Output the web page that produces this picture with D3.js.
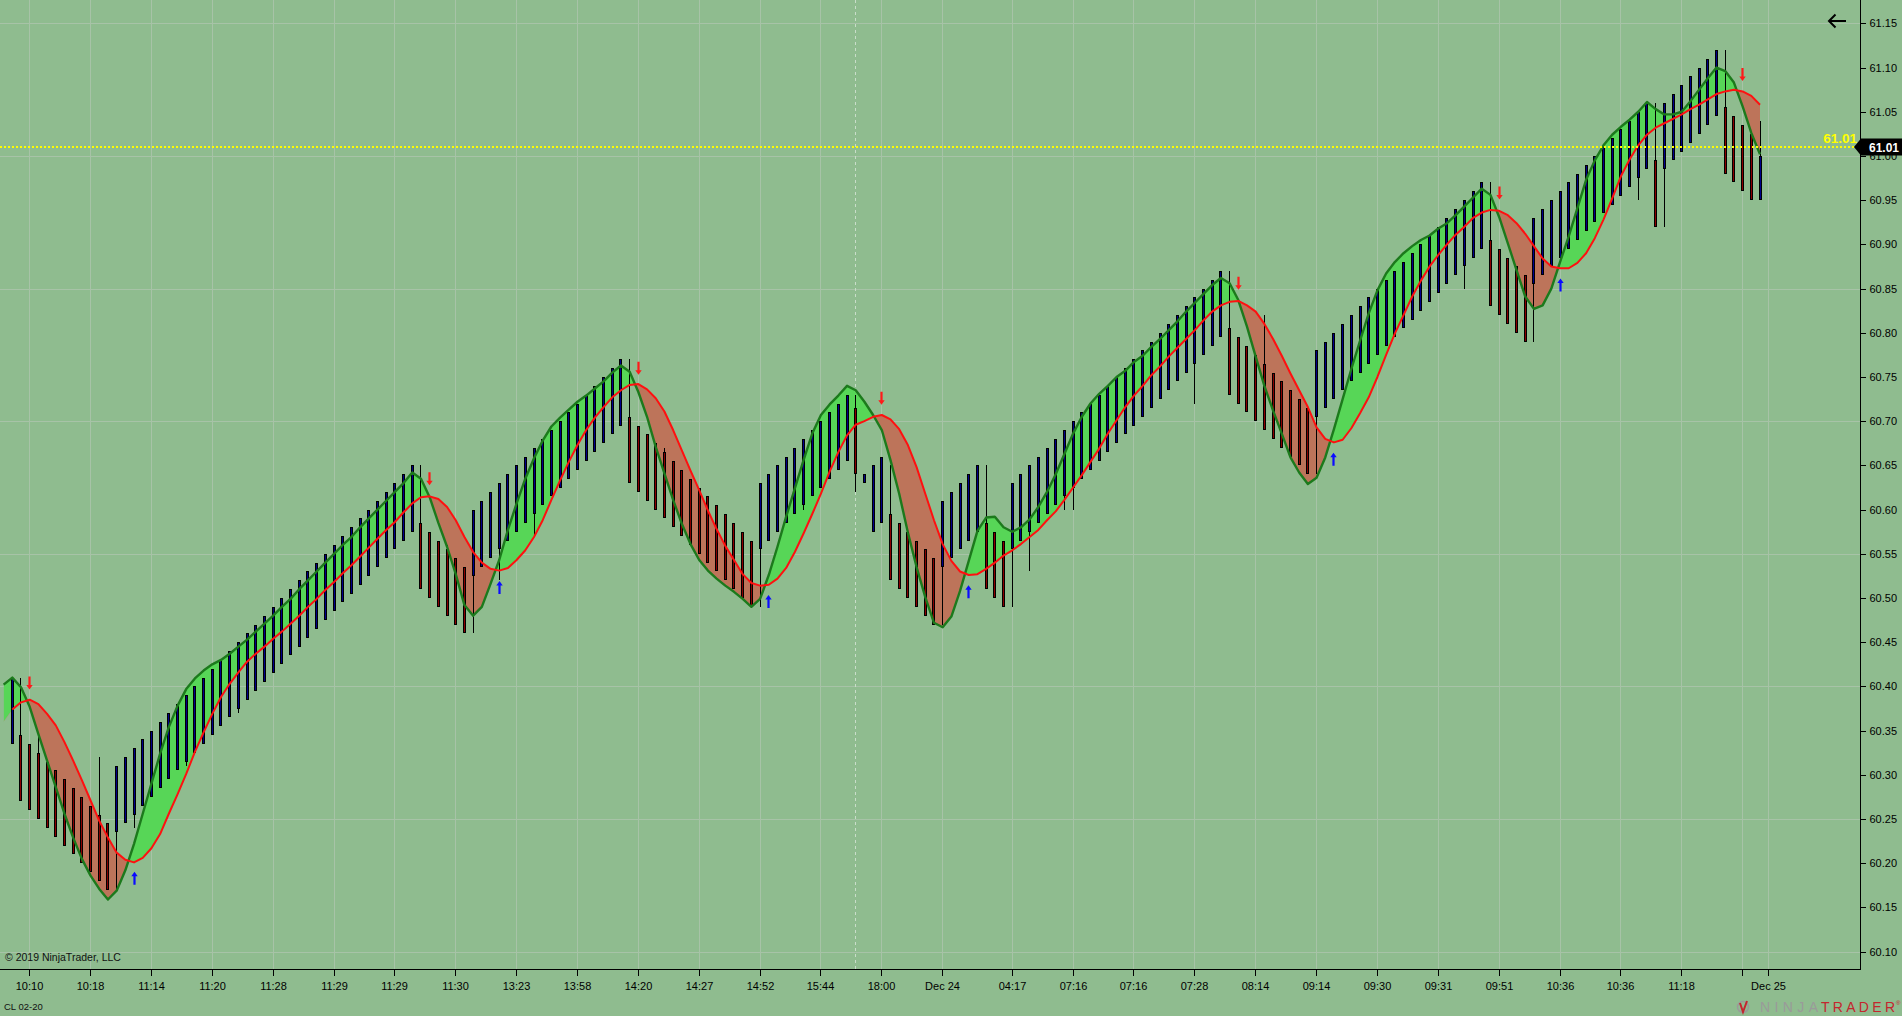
<!DOCTYPE html>
<html>
<head>
<meta charset="utf-8">
<script src="https://cdn.jsdelivr.net/npm/d3@7"></script>
<style>
  html, body { margin: 0; padding: 0; background: #8fbc8f; overflow: hidden; }
  svg { display: block; font-family: 'Liberation Sans', Arial, sans-serif; }
  .axis text { font-family: 'Liberation Sans', Arial, sans-serif; font-size: 11px; fill: #000; }
  .axis path, .axis line { stroke: #000; shape-rendering: crispEdges; }
  .axis path { stroke-width: 1.5; }
  .grid line { stroke: #a7c3a7; stroke-width: 1; shape-rendering: crispEdges; }
</style>
</head>
<body>
<div id="chart"></div>
<script>
const width = 1902;
const height = 1016;
const plotRight = 1860;
const plotBottom = 969;

// bars 0..201
const opens = [
  60.335, 60.345, 60.335, 60.325, 60.315, 60.305, 60.295, 60.285, 60.275, 60.265,
  60.255, 60.245, 60.235, 60.245, 60.255, 60.265, 60.275, 60.285, 60.295, 60.305,
  60.315, 60.325, 60.335, 60.345, 60.355, 60.365, 60.375, 60.385, 60.395, 60.405,
  60.415, 60.425, 60.435, 60.445, 60.455, 60.465, 60.475, 60.485, 60.495, 60.505,
  60.515, 60.525, 60.535, 60.545, 60.555, 60.565, 60.575, 60.585, 60.575, 60.565,
  60.555, 60.545, 60.535, 60.525, 60.535, 60.545, 60.555, 60.565, 60.575, 60.585,
  60.595, 60.605, 60.615, 60.625, 60.635, 60.645, 60.655, 60.665, 60.675, 60.685,
  60.695, 60.705, 60.695, 60.685, 60.675, 60.665, 60.655, 60.645, 60.635, 60.625,
  60.615, 60.605, 60.595, 60.585, 60.575, 60.565, 60.555, 60.565, 60.575, 60.585,
  60.595, 60.605, 60.615, 60.625, 60.635, 60.645, 60.655, 60.715, 60.63, 60.575,
  60.585, 60.595, 60.585, 60.575, 60.565, 60.555, 60.545, 60.535, 60.545, 60.555,
  60.565, 60.575, 60.585, 60.575, 60.565, 60.555, 60.565, 60.575, 60.585, 60.595,
  60.605, 60.615, 60.625, 60.635, 60.645, 60.655, 60.665, 60.675, 60.685, 60.695,
  60.705, 60.715, 60.725, 60.735, 60.745, 60.755, 60.765, 60.775, 60.785, 60.795,
  60.805, 60.795, 60.785, 60.775, 60.765, 60.755, 60.745, 60.735, 60.725, 60.715,
  60.705, 60.715, 60.725, 60.735, 60.745, 60.755, 60.765, 60.775, 60.785, 60.795,
  60.805, 60.815, 60.825, 60.835, 60.845, 60.855, 60.865, 60.875, 60.885, 60.895,
  60.905, 60.895, 60.885, 60.875, 60.865, 60.855, 60.865, 60.875, 60.885, 60.895,
  60.905, 60.915, 60.925, 60.935, 60.945, 60.955, 60.965, 60.975, 60.985, 60.995,
  60.985, 60.995, 61.005, 61.015, 61.025, 61.035, 61.045, 61.055, 61.045, 61.035,
  61.025, 60.95
];

const highs = [
  60.41, 60.41, 60.335, 60.345, 60.315, 60.305, 60.295, 60.285, 60.275, 60.265,
  60.32, 60.245, 60.31, 60.32, 60.33, 60.34, 60.35, 60.36, 60.37, 60.38,
  60.39, 60.40, 60.41, 60.42, 60.43, 60.44, 60.45, 60.46, 60.47, 60.48,
  60.49, 60.50, 60.51, 60.52, 60.53, 60.54, 60.55, 60.56, 60.57, 60.58,
  60.59, 60.60, 60.61, 60.62, 60.63, 60.64, 60.65, 60.65, 60.575, 60.565,
  60.56, 60.545, 60.535, 60.60, 60.61, 60.62, 60.63, 60.64, 60.65, 60.66,
  60.67, 60.68, 60.69, 60.70, 60.71, 60.72, 60.73, 60.74, 60.75, 60.76,
  60.77, 60.77, 60.695, 60.685, 60.675, 60.67, 60.655, 60.645, 60.635, 60.625,
  60.615, 60.605, 60.595, 60.585, 60.575, 60.565, 60.63, 60.64, 60.65, 60.66,
  60.67, 60.68, 60.69, 60.70, 60.71, 60.72, 60.73, 60.73, 60.64, 60.65,
  60.66, 60.65, 60.585, 60.575, 60.565, 60.555, 60.545, 60.61, 60.62, 60.63,
  60.64, 60.65, 60.65, 60.575, 60.565, 60.63, 60.64, 60.65, 60.66, 60.67,
  60.68, 60.69, 60.70, 60.71, 60.72, 60.73, 60.74, 60.75, 60.76, 60.77,
  60.78, 60.79, 60.80, 60.81, 60.82, 60.83, 60.84, 60.85, 60.86, 60.87,
  60.87, 60.795, 60.785, 60.775, 60.82, 60.755, 60.745, 60.735, 60.725, 60.715,
  60.78, 60.79, 60.80, 60.81, 60.82, 60.83, 60.84, 60.85, 60.86, 60.87,
  60.88, 60.89, 60.90, 60.91, 60.92, 60.93, 60.94, 60.95, 60.96, 60.97,
  60.97, 60.895, 60.885, 60.875, 60.865, 60.93, 60.94, 60.95, 60.96, 60.97,
  60.98, 60.99, 61.00, 61.01, 61.02, 61.03, 61.04, 61.05, 61.06, 61.06,
  61.06, 61.07, 61.08, 61.09, 61.10, 61.11, 61.12, 61.12, 61.045, 61.035,
  61.025, 61.04
];

const lows = [
  60.335, 60.27, 60.26, 60.25, 60.24, 60.23, 60.22, 60.21, 60.20, 60.19,
  60.18, 60.17, 60.17, 60.245, 60.24, 60.265, 60.275, 60.285, 60.295, 60.305,
  60.31, 60.325, 60.335, 60.345, 60.355, 60.365, 60.37, 60.385, 60.395, 60.405,
  60.415, 60.425, 60.435, 60.445, 60.455, 60.465, 60.475, 60.485, 60.495, 60.505,
  60.515, 60.525, 60.535, 60.545, 60.555, 60.565, 60.575, 60.51, 60.50, 60.49,
  60.48, 60.47, 60.46, 60.46, 60.535, 60.545, 60.52, 60.565, 60.575, 60.585,
  60.57, 60.605, 60.615, 60.625, 60.635, 60.645, 60.655, 60.665, 60.675, 60.685,
  60.695, 60.63, 60.62, 60.61, 60.60, 60.59, 60.58, 60.57, 60.56, 60.55,
  60.54, 60.53, 60.52, 60.51, 60.50, 60.49, 60.49, 60.565, 60.575, 60.585,
  60.595, 60.60, 60.615, 60.625, 60.635, 60.645, 60.655, 60.62, 60.63, 60.575,
  60.585, 60.52, 60.51, 60.50, 60.49, 60.48, 60.47, 60.47, 60.545, 60.555,
  60.565, 60.575, 60.51, 60.50, 60.49, 60.49, 60.565, 60.53, 60.585, 60.595,
  60.605, 60.60, 60.60, 60.635, 60.645, 60.655, 60.665, 60.675, 60.685, 60.695,
  60.705, 60.715, 60.725, 60.735, 60.745, 60.755, 60.72, 60.775, 60.785, 60.795,
  60.73, 60.72, 60.71, 60.70, 60.69, 60.68, 60.67, 60.66, 60.65, 60.64,
  60.64, 60.715, 60.725, 60.735, 60.745, 60.755, 60.765, 60.775, 60.785, 60.795,
  60.805, 60.815, 60.825, 60.835, 60.845, 60.855, 60.865, 60.85, 60.885, 60.895,
  60.83, 60.82, 60.81, 60.80, 60.79, 60.79, 60.865, 60.875, 60.885, 60.895,
  60.905, 60.915, 60.925, 60.935, 60.945, 60.955, 60.965, 60.95, 60.985, 60.92,
  60.92, 60.995, 61.005, 61.015, 61.025, 61.035, 61.045, 60.98, 60.97, 60.96,
  60.95, 60.95
];

const closes = [
  60.41, 60.27, 60.26, 60.25, 60.24, 60.23, 60.22, 60.21, 60.20, 60.19,
  60.18, 60.17, 60.31, 60.32, 60.33, 60.34, 60.35, 60.36, 60.37, 60.38,
  60.39, 60.40, 60.41, 60.42, 60.43, 60.44, 60.45, 60.46, 60.47, 60.48,
  60.49, 60.50, 60.51, 60.52, 60.53, 60.54, 60.55, 60.56, 60.57, 60.58,
  60.59, 60.60, 60.61, 60.62, 60.63, 60.64, 60.65, 60.51, 60.50, 60.49,
  60.48, 60.47, 60.46, 60.60, 60.61, 60.62, 60.63, 60.64, 60.65, 60.66,
  60.67, 60.68, 60.69, 60.70, 60.71, 60.72, 60.73, 60.74, 60.75, 60.76,
  60.77, 60.63, 60.62, 60.61, 60.60, 60.59, 60.58, 60.57, 60.56, 60.55,
  60.54, 60.53, 60.52, 60.51, 60.50, 60.49, 60.63, 60.64, 60.65, 60.66,
  60.67, 60.68, 60.69, 60.70, 60.71, 60.72, 60.73, 60.64, 60.64, 60.65,
  60.66, 60.52, 60.51, 60.50, 60.49, 60.48, 60.47, 60.61, 60.62, 60.63,
  60.64, 60.65, 60.51, 60.50, 60.49, 60.63, 60.64, 60.65, 60.66, 60.67,
  60.68, 60.69, 60.70, 60.71, 60.72, 60.73, 60.74, 60.75, 60.76, 60.77,
  60.78, 60.79, 60.80, 60.81, 60.82, 60.83, 60.84, 60.85, 60.86, 60.87,
  60.73, 60.72, 60.71, 60.70, 60.69, 60.68, 60.67, 60.66, 60.65, 60.64,
  60.78, 60.79, 60.80, 60.81, 60.82, 60.83, 60.84, 60.85, 60.86, 60.87,
  60.88, 60.89, 60.90, 60.91, 60.92, 60.93, 60.94, 60.95, 60.96, 60.97,
  60.83, 60.82, 60.81, 60.80, 60.79, 60.93, 60.94, 60.95, 60.96, 60.97,
  60.98, 60.99, 61.00, 61.01, 61.02, 61.03, 61.04, 61.05, 61.06, 60.92,
  61.06, 61.07, 61.08, 61.09, 61.10, 61.11, 61.12, 60.98, 60.97, 60.96,
  60.95, 61.00
];

// indicator lines, first value belongs to bar -1 (scrolled off)
const maStart = -1;
const fastLine = [
  60.402, 60.41, 60.399, 60.377, 60.346, 60.316, 60.286, 60.256, 60.229, 60.205,
  60.186, 60.171, 60.159, 60.169, 60.192, 60.222, 60.256, 60.29, 60.324, 60.354,
  60.378, 60.397, 60.409, 60.418, 60.425, 60.43, 60.437, 60.445, 60.453, 60.462,
  60.471, 60.48, 60.49, 60.499, 60.51, 60.52, 60.53, 60.54, 60.55, 60.56,
  60.569, 60.58, 60.59, 60.60, 60.61, 60.62, 60.63, 60.642, 60.635, 60.614,
  60.585, 60.558, 60.527, 60.492, 60.48, 60.49, 60.516, 60.543, 60.577, 60.607,
  60.635, 60.658, 60.678, 60.694, 60.704, 60.713, 60.722, 60.729, 60.737, 60.745,
  60.755, 60.763, 60.756, 60.733, 60.705, 60.671, 60.641, 60.611, 60.584, 60.561,
  60.543, 60.531, 60.522, 60.514, 60.507, 60.499, 60.49, 60.499, 60.526, 60.558,
  60.592, 60.624, 60.656, 60.686, 60.707, 60.719, 60.729, 60.74, 60.735, 60.722,
  60.707, 60.69, 60.656, 60.618, 60.574, 60.535, 60.501, 60.472, 60.467, 60.479,
  60.508, 60.542, 60.576, 60.591, 60.592, 60.58, 60.575, 60.58, 60.589, 60.603,
  60.62, 60.64, 60.663, 60.686, 60.705, 60.72, 60.731, 60.74, 60.75, 60.757,
  60.767, 60.774, 60.784, 60.793, 60.803, 60.813, 60.824, 60.834, 60.844, 60.854,
  60.862, 60.856, 60.837, 60.807, 60.773, 60.74, 60.712, 60.686, 60.659, 60.642,
  60.629, 60.636, 60.659, 60.691, 60.725, 60.759, 60.791, 60.822, 60.848, 60.867,
  60.88, 60.89, 60.898, 60.905, 60.91, 60.918, 60.924, 60.933, 60.943, 60.953,
  60.963, 60.956, 60.931, 60.901, 60.871, 60.841, 60.827, 60.831, 60.85, 60.88,
  60.909, 60.941, 60.973, 60.995, 61.012, 61.024, 61.033, 61.041, 61.05, 61.061,
  61.053, 61.047, 61.047, 61.05, 61.062, 61.075, 61.088, 61.10, 61.096, 61.083,
  61.056, 61.026, 61.002
];
const slowLine = [
  60.36, 60.374, 60.382, 60.385, 60.38, 60.369, 60.356, 60.337, 60.316, 60.294,
  60.271, 60.248, 60.229, 60.212, 60.204, 60.201, 60.206, 60.217, 60.233, 60.256,
  60.278, 60.301, 60.326, 60.348, 60.369, 60.388, 60.403, 60.416, 60.428, 60.437,
  60.445, 60.454, 60.462, 60.471, 60.48, 60.49, 60.499, 60.509, 60.518, 60.528,
  60.537, 60.547, 60.557, 60.567, 60.577, 60.586, 60.597, 60.607, 60.614, 60.615,
  60.612, 60.603, 60.588, 60.569, 60.552, 60.54, 60.533, 60.531, 60.534, 60.543,
  60.554, 60.569, 60.588, 60.611, 60.633, 60.654, 60.673, 60.69, 60.704, 60.716,
  60.727, 60.735, 60.741, 60.742, 60.736, 60.726, 60.711, 60.69, 60.667, 60.644,
  60.622, 60.599, 60.578, 60.559, 60.543, 60.527, 60.517, 60.514, 60.515, 60.522,
  60.534, 60.552, 60.573, 60.595, 60.618, 60.643, 60.665, 60.684, 60.696, 60.70,
  60.705, 60.707, 60.702, 60.691, 60.673, 60.648, 60.618, 60.588, 60.561, 60.542,
  60.53, 60.526, 60.527, 60.533, 60.54, 60.548, 60.554, 60.561, 60.569, 60.577,
  60.588, 60.598, 60.611, 60.625, 60.639, 60.654, 60.669, 60.686, 60.701, 60.716,
  60.729, 60.74, 60.752, 60.762, 60.773, 60.783, 60.793, 60.803, 60.814, 60.824,
  60.831, 60.835, 60.836, 60.831, 60.824, 60.81, 60.793, 60.774, 60.754, 60.735,
  60.716, 60.693, 60.68, 60.676, 60.679, 60.692, 60.709, 60.727, 60.75, 60.775,
  60.799, 60.82, 60.841, 60.859, 60.875, 60.888, 60.90, 60.911, 60.92, 60.93,
  60.936, 60.939, 60.938, 60.933, 60.924, 60.912, 60.898, 60.884, 60.875, 60.873,
  60.873, 60.879, 60.89, 60.907, 60.928, 60.952, 60.977, 60.996, 61.012, 61.024,
  61.032, 61.037, 61.042, 61.047, 61.053, 61.058, 61.064, 61.07, 61.073, 61.075,
  61.073, 61.068, 61.058
];

const downArrowBars = [2, 48, 72, 100, 141, 171, 199];
const downArrowPrices = [60.404, 60.635, 60.76, 60.726, 60.856, 60.958, 61.092];
const upArrowBars = [14, 56, 87, 110, 152, 178];
const upArrowPrices = [60.183, 60.512, 60.496, 60.507, 60.657, 60.854];

const timeTickBars = [2, 9, 16, 23, 30, 37, 44, 51, 58, 65, 72, 79, 86, 93, 100,
  107, 115, 122, 129, 136, 143, 150, 157, 164, 171, 178, 185, 192, 199, 202];
const timeTickLabels = ['10:10', '10:18', '11:14', '11:20', '11:28', '11:29', '11:29',
  '11:30', '13:23', '13:58', '14:20', '14:27', '14:52', '15:44', '18:00', 'Dec 24',
  '04:17', '07:16', '07:16', '07:28', '08:14', '09:14', '09:30', '09:31', '09:51',
  '10:36', '10:36', '11:18', '', 'Dec 25'];

const priceTicks = [61.15, 61.10, 61.05, 61.00, 60.95, 60.90, 60.85, 60.80, 60.75, 60.70,
  60.65, 60.60, 60.55, 60.50, 60.45, 60.40, 60.35, 60.30, 60.25, 60.20, 60.15, 60.10];
const gridPrices = [61.15, 61.00, 60.85, 60.70, 60.55, 60.40, 60.25, 60.10];

const lastPrice = 61.01;
const sessionBreakBar = 97;

const svg = d3
  .select('#chart')
  .append('svg')
  .attr('width', width)
  .attr('height', height);

svg.append('rect').attr('width', width).attr('height', height).attr('fill', '#8fbc8f');

// bar index -> pixel, price -> pixel
const x = d3.scaleLinear().domain([-1.415, 212.5]).range([0, plotRight]);
const y = d3.scaleLinear().domain([60.0804, 61.1764]).range([plotBottom, 0]);

const bars = opens.map((o, i) => ({
  i: i,
  open: o,
  high: highs[i],
  low: lows[i],
  close: closes[i],
}));

const ma = fastLine.map((f, k) => ({ i: k + maStart, fast: f, slow: slowLine[k] }));

// grid
const grid = svg.append('g').attr('class', 'grid');
grid
  .selectAll('line.v')
  .data(timeTickBars)
  .enter()
  .append('line')
  .attr('class', 'v')
  .attr('x1', (d) => Math.floor(x(d)) + 0.5)
  .attr('x2', (d) => Math.floor(x(d)) + 0.5)
  .attr('y1', 0)
  .attr('y2', plotBottom);
grid
  .selectAll('line.h')
  .data(gridPrices)
  .enter()
  .append('line')
  .attr('class', 'h')
  .attr('x1', 0)
  .attr('x2', plotRight)
  .attr('y1', (d) => Math.round(y(d)) + 0.5)
  .attr('y2', (d) => Math.round(y(d)) + 0.5);

svg
  .append('line')
  .attr('x1', Math.floor(x(sessionBreakBar)) + 0.5)
  .attr('x2', Math.floor(x(sessionBreakBar)) + 0.5)
  .attr('y1', 0)
  .attr('y2', plotBottom)
  .attr('stroke', '#c9ddc9')
  .attr('stroke-dasharray', '3,3')
  .attr('shape-rendering', 'crispEdges');

// plot clip
const defs = svg.append('defs');
defs
  .append('clipPath')
  .attr('id', 'plotClip')
  .append('rect')
  .attr('width', plotRight)
  .attr('height', plotBottom);

const aboveSlow = d3
  .area()
  .x((d) => x(d.i))
  .y0(0)
  .y1((d) => y(d.slow));
const belowSlow = d3
  .area()
  .x((d) => x(d.i))
  .y0((d) => y(d.slow))
  .y1(plotBottom);
defs.append('clipPath').attr('id', 'clipAbove').append('path').attr('d', aboveSlow(ma));
defs.append('clipPath').attr('id', 'clipBelow').append('path').attr('d', belowSlow(ma));

const plot = svg.append('g').attr('clip-path', 'url(#plotClip)');

const band = d3
  .area()
  .x((d) => x(d.i))
  .y0((d) => y(d.slow))
  .y1((d) => y(d.fast));

plot
  .append('g')
  .attr('clip-path', 'url(#clipAbove)')
  .append('path')
  .attr('d', band(ma))
  .attr('fill', '#57d657');
plot
  .append('g')
  .attr('clip-path', 'url(#clipBelow)')
  .append('path')
  .attr('d', band(ma))
  .attr('fill', '#bd745a');

// bars
const barG = plot.append('g').attr('shape-rendering', 'crispEdges');
const barSel = barG.selectAll('g').data(bars).enter().append('g');

barSel
  .append('rect')
  .attr('x', (d) => Math.floor(x(d.i)))
  .attr('width', 1)
  .attr('y', (d) => Math.round(y(d.high)))
  .attr('height', (d) => Math.max(1, Math.round(y(d.low)) - Math.round(y(d.high))))
  .attr('fill', '#000');

barSel
  .append('rect')
  .attr('x', (d) => Math.floor(x(d.i)) - 1)
  .attr('width', 3)
  .attr('y', (d) => Math.round(y(Math.max(d.open, d.close))))
  .attr('height', (d) =>
    Math.max(2, Math.round(y(Math.min(d.open, d.close))) - Math.round(y(Math.max(d.open, d.close))))
  )
  .attr('fill', '#000');

barSel
  .append('rect')
  .attr('x', (d) => Math.floor(x(d.i)))
  .attr('width', 1)
  .attr('y', (d) => Math.round(y(Math.max(d.open, d.close))) + 1)
  .attr('height', (d) =>
    Math.max(0, Math.round(y(Math.min(d.open, d.close))) - Math.round(y(Math.max(d.open, d.close))) - 2)
  )
  .attr('fill', (d) => (d.close >= d.open ? '#00008b' : '#8b0000'));

// indicator lines
const fastPath = d3
  .line()
  .x((d) => x(d.i))
  .y((d) => y(d.fast));
const slowPath = d3
  .line()
  .x((d) => x(d.i))
  .y((d) => y(d.slow));

plot
  .append('path')
  .attr('d', fastPath(ma))
  .attr('fill', 'none')
  .attr('stroke', '#1c7a1c')
  .attr('stroke-width', 2.4)
  .attr('stroke-linejoin', 'round');
plot
  .append('path')
  .attr('d', slowPath(ma.filter((d) => d.i >= 0)))
  .attr('fill', 'none')
  .attr('stroke', '#ff1010')
  .attr('stroke-width', 2)
  .attr('stroke-linejoin', 'round');

// signal arrows
function arrowPath(cx, cy, dir) {
  const h = 6.5;
  const hw = 3.2;
  const hh = 4.5;
  const sw = 1.1;
  const tip = cy + dir * h;
  const base = cy - dir * h;
  const neck = tip - dir * hh;
  return (
    'M' + (cx - sw) + ',' + base + 'L' + (cx + sw) + ',' + base +
    'L' + (cx + sw) + ',' + neck + 'L' + (cx + hw) + ',' + neck +
    'L' + cx + ',' + tip + 'L' + (cx - hw) + ',' + neck +
    'L' + (cx - sw) + ',' + neck + 'Z'
  );
}

plot
  .selectAll('path.down')
  .data(downArrowBars)
  .enter()
  .append('path')
  .attr('class', 'down')
  .attr('d', (d, k) => arrowPath(Math.floor(x(d)) + 0.5, y(downArrowPrices[k]), 1))
  .attr('fill', '#ff1a1a');
plot
  .selectAll('path.up')
  .data(upArrowBars)
  .enter()
  .append('path')
  .attr('class', 'up')
  .attr('d', (d, k) => arrowPath(Math.floor(x(d)) + 0.5, y(upArrowPrices[k]), -1))
  .attr('fill', '#0b0bff');

// last price line
svg
  .append('line')
  .attr('x1', 0)
  .attr('x2', plotRight - 6)
  .attr('y1', y(lastPrice))
  .attr('y2', y(lastPrice))
  .attr('stroke', '#ffff00')
  .attr('stroke-width', 2)
  .attr('stroke-dasharray', '2,2');

// axes
const xAxis = d3
  .axisBottom(x)
  .tickValues(timeTickBars)
  .tickFormat((d, k) => timeTickLabels[k])
  .tickSize(6)
  .tickSizeOuter(0)
  .tickPadding(7);
const xAxisG = svg
  .append('g')
  .attr('class', 'axis')
  .attr('transform', 'translate(0,' + (plotBottom + 0.5) + ')')
  .call(xAxis);
xAxisG.selectAll('.tick').attr('transform', (d) => 'translate(' + (Math.floor(x(d)) + 0.5) + ',0)');
xAxisG.select('.domain').attr('d', 'M0,0H' + (plotRight + 0.5));

const yAxis = d3
  .axisRight(y)
  .tickValues(priceTicks)
  .tickFormat(d3.format('.2f'))
  .tickSize(5)
  .tickSizeOuter(0)
  .tickPadding(4);
svg
  .append('g')
  .attr('class', 'axis')
  .attr('transform', 'translate(' + (plotRight + 0.5) + ',0)')
  .call(yAxis)
  .select('.domain')
  .attr('d', 'M0,0V' + (plotBottom + 0.5));

// last price markers
svg
  .append('text')
  .attr('x', plotRight - 3)
  .attr('y', y(lastPrice) - 4)
  .attr('text-anchor', 'end')
  .attr('font-size', '13.5px')
  .attr('font-weight', 'bold')
  .attr('fill', '#ffff00')
  .text(d3.format('.2f')(lastPrice));

const tagY = y(lastPrice);
svg
  .append('path')
  .attr(
    'd',
    'M' + (plotRight - 6) + ',' + tagY +
      'L' + (plotRight + 1) + ',' + (tagY - 8.5) +
      'L' + width + ',' + (tagY - 8.5) +
      'L' + width + ',' + (tagY + 8.5) +
      'L' + (plotRight + 1) + ',' + (tagY + 8.5) + 'Z'
  )
  .attr('fill', '#000');
svg
  .append('text')
  .attr('x', plotRight + 9)
  .attr('y', tagY + 4.5)
  .attr('font-size', '12px')
  .attr('font-weight', 'bold')
  .attr('fill', '#fff')
  .text(d3.format('.2f')(lastPrice));

// back arrow icon
svg
  .append('path')
  .attr('d', 'M1846,21H1829M1835.5,14.5L1829,21L1835.5,27.5')
  .attr('fill', 'none')
  .attr('stroke', '#000')
  .attr('stroke-width', 2);

// footer texts
svg
  .append('text')
  .attr('x', 5)
  .attr('y', 961)
  .attr('font-size', '10.5px')
  .attr('fill', '#111')
  .text('© 2019 NinjaTrader, LLC');
svg
  .append('text')
  .attr('x', 4)
  .attr('y', 1010)
  .attr('font-size', '9.5px')
  .attr('fill', '#111')
  .text('CL 02-20');

// logo
const logo = svg.append('g');
logo
  .append('circle')
  .attr('cx', 1743)
  .attr('cy', 1007)
  .attr('r', 5.5)
  .attr('fill', 'none')
  .attr('stroke', '#9a9a9a')
  .attr('stroke-width', 1.5);
logo
  .append('path')
  .attr('d', 'M1740,1003L1743,1012L1747,1001')
  .attr('fill', 'none')
  .attr('stroke', '#c4262e')
  .attr('stroke-width', 2);
logo
  .append('text')
  .attr('x', 1760)
  .attr('y', 1012)
  .attr('font-size', '14px')
  .attr('fill', '#9a9a9a')
  .attr('textLength', 58)
  .attr('lengthAdjust', 'spacing')
  .text('NINJA');
logo
  .append('text')
  .attr('x', 1821)
  .attr('y', 1012)
  .attr('font-size', '14px')
  .attr('fill', '#c4262e')
  .attr('textLength', 74)
  .attr('lengthAdjust', 'spacing')
  .text('TRADER');
logo
  .append('text')
  .attr('x', 1896)
  .attr('y', 1005)
  .attr('font-size', '6px')
  .attr('fill', '#c4262e')
  .text('®');
</script>
</body>
</html>
